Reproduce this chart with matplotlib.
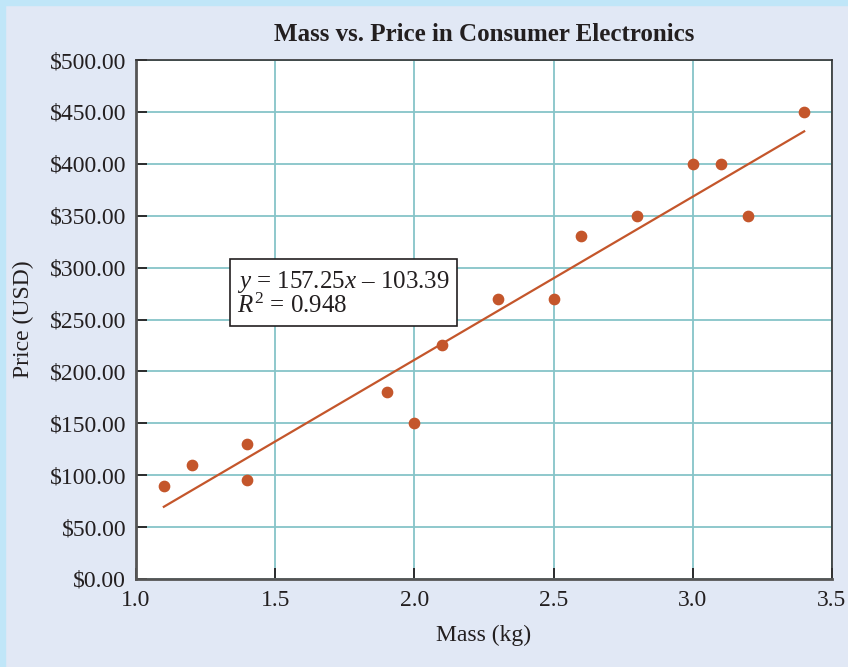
import matplotlib
matplotlib.use("Agg")
from matplotlib import pyplot as plt
from matplotlib.patches import Rectangle
import numpy as np

# data
mass = [1.1, 1.2, 1.4, 1.4, 1.9, 2.0, 2.1, 2.3, 2.5, 2.6, 2.8, 3.0, 3.1, 3.2, 3.4]
price = [90, 110, 130, 95, 180, 150, 225, 270, 270, 330, 350, 400, 400, 350, 450]
slope = 157.25
intercept = -103.39
r2 = 0.948

x_ticks = [1.0, 1.5, 2.0, 2.5, 3.0, 3.5]
y_ticks = [0, 50, 100, 150, 200, 250, 300, 350, 400, 450, 500]

plt.rcParams['font.family'] = ['Liberation Serif', 'DejaVu Serif']
plt.rcParams['mathtext.fontset'] = 'custom'
plt.rcParams['mathtext.it'] = 'Liberation Serif:italic'
plt.rcParams['mathtext.rm'] = 'Liberation Serif'

bg = '#e1e8f5'
red = '#c4562b'
grid_col = '#86c4c8'
ink = '#231f20'

fig = plt.figure(figsize=(8.48, 6.67), dpi=100, facecolor=bg)
# light blue strip along top and left edge
fig.patches.append(Rectangle((0, 0), 5 / 848, 1, transform=fig.transFigure,
                             color='#c0e6f8', zorder=0))
fig.patches.append(Rectangle((0, 1 - 5 / 667), 1, 5 / 667, transform=fig.transFigure,
                             color='#c0e6f8', zorder=0))

ax = fig.add_axes([136 / 848, 1 - 579 / 667, 696 / 848, 519 / 667])
ax.set_facecolor('white')

ax.set_xlim(1.0, 3.5)
ax.set_ylim(0, 500)
ax.set_xticks(x_ticks)
ax.set_yticks(y_ticks)
ax.set_xticklabels([f"{t:.1f}" for t in x_ticks])
ax.set_yticklabels([f"${t:.2f}" for t in y_ticks])
ax.grid(True, color=grid_col, linewidth=1.3)
ax.set_axisbelow(True)

ax.tick_params(direction='in', length=8, width=1.3, color=ink, labelsize=17,
               labelcolor=ink, pad=7)
ax.tick_params(axis='x', pad=8)
for side in ['left', 'bottom']:
    ax.spines[side].set_linewidth(2)
    ax.spines[side].set_color('#555555')
for side in ['top', 'right']:
    ax.spines[side].set_linewidth(1.2)
    ax.spines[side].set_color('#333333')

ax.scatter(mass, price, s=55, color=red, zorder=3)
xl = np.array([min(mass), max(mass)])
ax.plot(xl, slope * xl + intercept, color=red, linewidth=1.6, zorder=3)

ax.text(1.363, 275, f"$y$ = {slope}$x$ \u2013 {abs(intercept)}\n$R^{{\\mathregular{{2}}}}$ = {r2}",
        fontsize=18, color=ink, va='center', ha='left', linespacing=0.95,
        bbox=dict(boxstyle='square,pad=0.3', facecolor='white', edgecolor=ink,
                  linewidth=1.2))

ax.set_title("Mass vs. Price in Consumer Electronics", fontsize=18,
             fontweight='bold', color=ink, pad=14)
ax.set_xlabel("Mass (kg)", fontsize=17, color=ink, labelpad=10)
ax.set_ylabel("Price (USD)", fontsize=17, color=ink)
ax.yaxis.set_label_coords(-0.146, 0.5)

fig.savefig("out.png", dpi=100, facecolor=bg)
